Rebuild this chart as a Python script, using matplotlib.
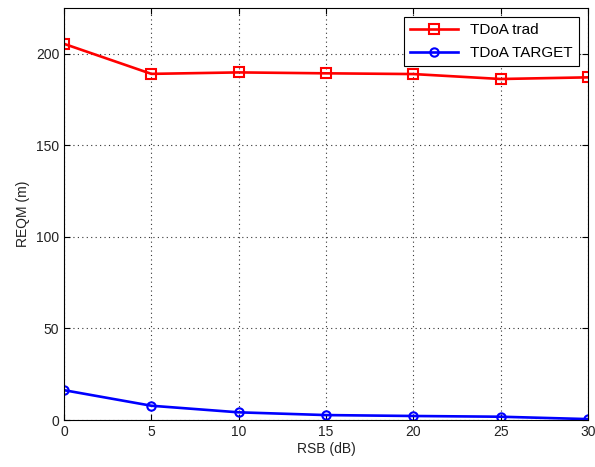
import matplotlib
matplotlib.use("Agg")
import matplotlib.pyplot as plt

plt.rcParams['font.family'] = ['Liberation Sans', 'DejaVu Sans']

rsb = [0, 5, 10, 15, 20, 25, 30]
reqm_trad = [205.4, 189.0, 189.8, 189.3, 188.9, 186.2, 187.1]
reqm_target = [16.3, 7.8, 4.2, 2.7, 2.2, 1.8, 0.5]

fig = plt.figure(figsize=(5.95, 4.67), dpi=100)
ax = fig.add_axes([0.1076, 0.1006, 0.8806, 0.8824])

ax.plot(rsb, reqm_trad, color='red', lw=1.9, marker='s', ms=7.5,
        mfc='none', mec='red', mew=1.5, label='TDoA trad')
ax.plot(rsb, reqm_target, color='blue', lw=1.9, marker='o', ms=6,
        mfc='none', mec='blue', mew=1.5, label='TDoA TARGET')

ax.set_xlim(0, 30)
ax.set_ylim(0, 225)
ax.set_xticks(rsb)
ax.set_yticks([0, 50, 100, 150, 200])
ax.grid(True, color='#333333', linestyle=(0, (1, 3)), lw=0.8)
ax.tick_params(direction='in', labelsize=10, length=4, top=True, right=True,
               colors='black', labelcolor='#222222')
for s in ax.spines.values():
    s.set_linewidth(0.8)
ax.set_xlabel('RSB (dB)', fontsize=10, labelpad=2, color='#222222')
ax.set_ylabel('REQM (m)', fontsize=10, labelpad=4, color='#222222')

leg = ax.legend(loc='upper right', fontsize=11, fancybox=False,
                edgecolor='black', framealpha=1, handlelength=3.1,
                borderaxespad=0.6, labelspacing=0.6, borderpad=0.4)
leg.get_frame().set_linewidth(0.8)

fig.savefig('out.png', dpi=100)
